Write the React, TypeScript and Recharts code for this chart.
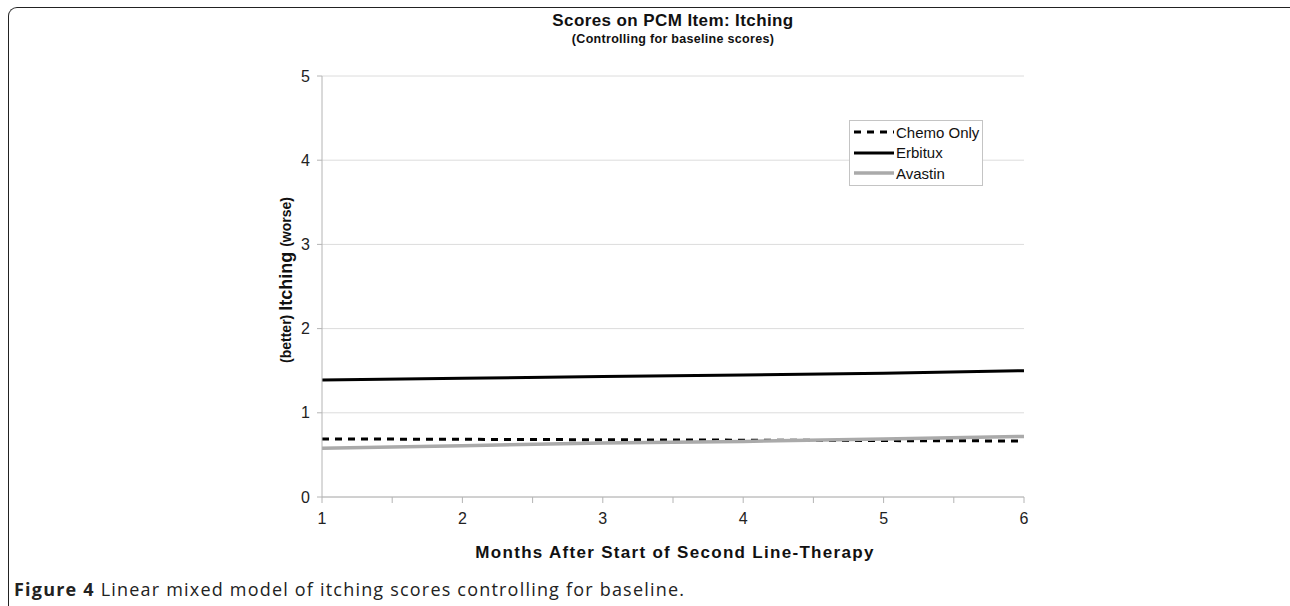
import React from 'react'
import { LineChart, Line, XAxis, YAxis, CartesianGrid, Legend } from 'recharts'

const months = [1, 2, 3, 4, 5, 6]
const chemoOnly = [0.69, 0.685, 0.68, 0.675, 0.67, 0.665]
const erbitux = [1.39, 1.41, 1.43, 1.45, 1.47, 1.5]
const avastin = [0.58, 0.61, 0.64, 0.66, 0.69, 0.72]

const seriesNames = ['Chemo Only', 'Erbitux', 'Avastin']
const xTicks = [1, 1.5, 2, 2.5, 3, 3.5, 4, 4.5, 5, 5.5, 6]
const yTicks = [0, 1, 2, 3, 4, 5]

const seriesStyle: Record<string, { stroke: string; width: number; dash?: string }> = {
  'Chemo Only': { stroke: '#000', width: 3, dash: '7 6' },
  Erbitux: { stroke: '#000', width: 3 },
  Avastin: { stroke: '#aaa', width: 3.5 },
}

const data = months.map((m, i) => ({
  month: m,
  'Chemo Only': chemoOnly[i],
  Erbitux: erbitux[i],
  Avastin: avastin[i],
}))

const font = '"Liberation Sans", Arial, sans-serif'

// legend drawn in series order (recharts sorts the payload by name otherwise)
function LegendBox() {
  return (
    <div style={{ border: '1px solid #c4c4c4', background: '#fff', padding: '1px 0', fontFamily: font, fontSize: 15, color: '#111' }}>
      {seriesNames.map((name) => {
        const s = seriesStyle[name]
        return (
          <div key={name} style={{ display: 'flex', alignItems: 'center', height: 20.5 }}>
            <svg width={44} height={10} style={{ marginLeft: 2 }}>
              <line x1={2} x2={42} y1={5} y2={5} stroke={s.stroke} strokeWidth={s.width} strokeDasharray={s.dash} />
            </svg>
            <span>{name}</span>
          </div>
        )
      })}
    </div>
  )
}

function YLabel({ viewBox }: any) {
  const cx = viewBox.x + 24
  const cy = 280
  return (
    <text x={cx} y={cy} transform={`rotate(-90 ${cx} ${cy})`} textAnchor="middle" dominantBaseline="central" fontFamily={font} fontWeight="bold" fill="#111">
      <tspan fontSize={14}>(better) </tspan>
      <tspan fontSize={18}> Itching </tspan>
      <tspan fontSize={14}> (worse)</tspan>
    </text>
  )
}

export default function App() {
  return (
    <div style={{ position: 'fixed', left: 0, top: 0, width: 1290, height: 606, overflow: 'hidden', background: '#fff' }}>
      <div style={{ position: 'absolute', left: 8, top: 7, width: 1400, height: 700, borderLeft: '1.5px solid #222', borderTop: '1.5px solid #222', borderTopLeftRadius: 9 }} />
      <div style={{ position: 'absolute', left: 322, width: 702, top: 11, textAlign: 'center', fontFamily: font, fontWeight: 'bold', color: '#111' }}>
        <div style={{ fontSize: 17, lineHeight: '20px', letterSpacing: 0.4 }}>Scores on PCM Item: Itching</div>
        <div style={{ fontSize: 12.5, lineHeight: '16px', letterSpacing: 0.3 }}>(Controlling for baseline scores)</div>
      </div>
      <div style={{ position: 'absolute', left: 0, top: 0 }}>
        <LineChart width={1290} height={606} data={data} margin={{ top: 76, right: 266, bottom: 79, left: 262 }}>
          <CartesianGrid horizontal vertical={false} stroke="#dcdcdc" />
          <XAxis
            dataKey="month"
            type="number"
            domain={[1, 6]}
            ticks={xTicks}
            interval={0}
            tickFormatter={(v: number) => (Number.isInteger(v) ? String(v) : '')}
            stroke="#b4b4b4"
            tickSize={6}
            tickMargin={10}
            fontSize={16}
            fontFamily={font}
            tick={{ fill: '#222' }}
          />
          <YAxis
            domain={[0, 5]}
            ticks={yTicks}
            width={60}
            stroke="#b4b4b4"
            tickSize={5}
            tickMargin={7}
            fontSize={16}
            fontFamily={font}
            tick={{ fill: '#222' }}
            label={{ content: (props: any) => <YLabel {...props} /> }}
          />
          <Legend layout="vertical" align="center" verticalAlign="middle" wrapperStyle={{ left: 849, top: 120, width: 134 }} content={<LegendBox />} />
          {seriesNames.map((k) => (
            <Line
              key={k}
              dataKey={k}
              type="linear"
              stroke={seriesStyle[k].stroke}
              strokeWidth={seriesStyle[k].width}
              strokeDasharray={seriesStyle[k].dash}
              dot={false}
              isAnimationActive={false}
            />
          ))}
        </LineChart>
      </div>
      <div style={{ position: 'absolute', left: 322, width: 706, top: 543, textAlign: 'center', fontFamily: font, fontWeight: 'bold', fontSize: 17, letterSpacing: 1.3, color: '#111' }}>
        Months After Start of Second Line-Therapy
      </div>
      <div style={{ position: 'absolute', left: 14, top: 577, fontFamily: '"Open Sans", sans-serif', fontSize: 18, letterSpacing: 1.2, color: '#222' }}>
        <b>Figure 4</b> Linear mixed model of itching scores controlling for baseline.
      </div>
    </div>
  )
}
